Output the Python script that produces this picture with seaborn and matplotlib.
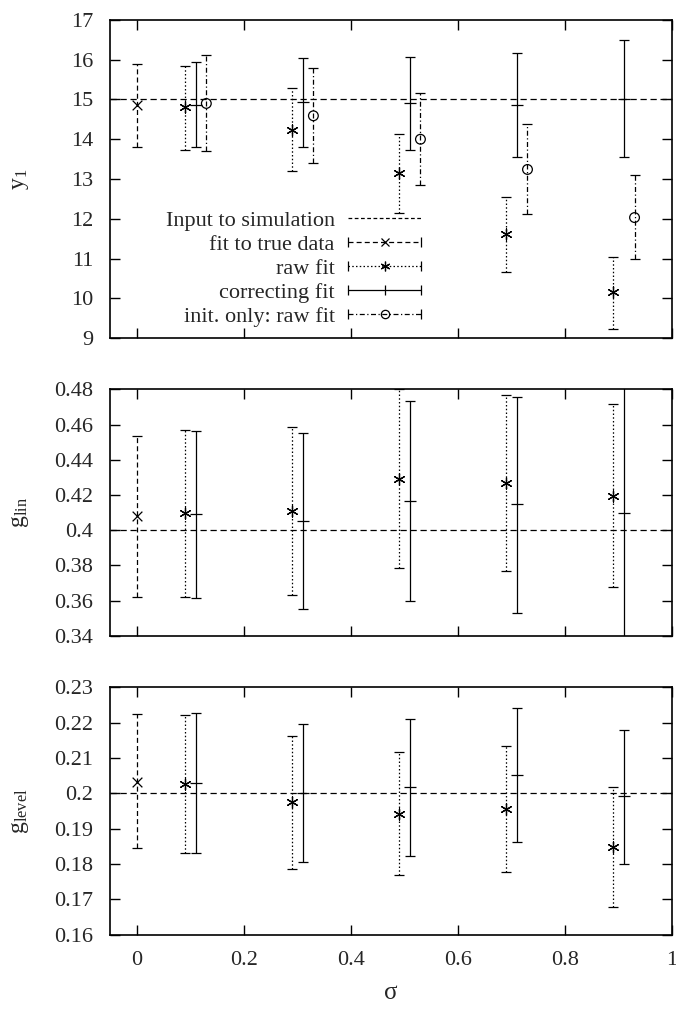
import numpy as np
import matplotlib
matplotlib.use("Agg")
import matplotlib.pyplot as plt
import seaborn as sns
from matplotlib.lines import Line2D
from matplotlib.legend_handler import HandlerLine2D, HandlerTuple

# ---------------- data ----------------
sigma_true = [0.0]
sigma_raw = [0.09, 0.29, 0.49, 0.69, 0.89]
sigma_corr = [0.11, 0.31, 0.51, 0.71, 0.91]
sigma_init = [0.13, 0.33, 0.53, 0.73, 0.93]

# panel 1 : y1
y1_input = 15.0
y1_true = [14.85]; y1_true_lo = [13.80]; y1_true_hi = [15.90]
y1_raw = [14.80, 14.23, 13.14, 11.62, 10.15]
y1_raw_lo = [13.73, 13.20, 12.15, 10.67, 9.22]
y1_raw_hi = [15.83, 15.28, 14.12, 12.55, 11.05]
y1_corr = [14.87, 14.93, 14.90, 14.86, 15.01]
y1_corr_lo = [13.81, 13.81, 13.73, 13.56, 13.56]
y1_corr_hi = [15.94, 16.04, 16.08, 16.18, 16.50]
y1_init = [14.90, 14.59, 14.00, 13.24, 12.03]
y1_init_lo = [13.70, 13.39, 12.85, 12.13, 10.98]
y1_init_hi = [16.12, 15.78, 15.16, 14.38, 13.10]

# panel 2 : g_lin
glin_input = 0.4
glin_true = [0.408]; glin_true_lo = [0.362]; glin_true_hi = [0.4537]
glin_raw = [0.4096, 0.411, 0.4289, 0.427, 0.4194]
glin_raw_lo = [0.3623, 0.3631, 0.3786, 0.3767, 0.3676]
glin_raw_hi = [0.4569, 0.4588, 0.4800, 0.4768, 0.4715]
glin_corr = [0.4092, 0.4053, 0.4168, 0.4147, 0.410]
glin_corr_lo = [0.3614, 0.3555, 0.360, 0.3529, 0.30]
glin_corr_hi = [0.4565, 0.455, 0.4734, 0.4758, 0.52]

# panel 3 : g_level
glev_input = 0.2
glev_true = [0.2033]; glev_true_lo = [0.1844]; glev_true_hi = [0.2224]
glev_raw = [0.2026, 0.1975, 0.1943, 0.1956, 0.1847]
glev_raw_lo = [0.1830, 0.1787, 0.1768, 0.1777, 0.1679]
glev_raw_hi = [0.2222, 0.2163, 0.2118, 0.2135, 0.2017]
glev_corr = [0.2028, 0.2000, 0.2017, 0.2052, 0.1992]
glev_corr_lo = [0.1832, 0.1807, 0.1823, 0.1861, 0.1800]
glev_corr_hi = [0.2226, 0.2196, 0.2210, 0.2242, 0.2179]

x_ticks = [0, 0.2, 0.4, 0.6, 0.8, 1]
x_ticklabels = ["0", "0.2", "0.4", "0.6", "0.8", "1"]
y1_ticks = [9, 10, 11, 12, 13, 14, 15, 16, 17]
glin_ticks = [0.34, 0.36, 0.38, 0.40, 0.42, 0.44, 0.46, 0.48]
glin_ticklabels = ["0.34", "0.36", "0.38", "0.4", "0.42", "0.44", "0.46", "0.48"]
glev_ticks = [0.16, 0.17, 0.18, 0.19, 0.20, 0.21, 0.22, 0.23]
glev_ticklabels = ["0.16", "0.17", "0.18", "0.19", "0.2", "0.21", "0.22", "0.23"]

labels = ["Input to simulation", "fit to true data", "raw fit",
          "correcting fit", "init. only: raw fit"]

# ---------------- style ----------------
sns.set_theme(style="ticks")
plt.rcParams["font.family"] = ["Liberation Serif", "DejaVu Serif"]
plt.rcParams["mathtext.fontset"] = "custom"
plt.rcParams["mathtext.rm"] = "Liberation Serif"
plt.rcParams["mathtext.it"] = "Liberation Serif"

FS = 16
asterisk = (6, 2, 0)
LW = 0.9
dash_true = (0, (4, 2.5))
dot_raw = (0, (1.2, 1.8))
dashdot_init = (0, (4, 2, 1, 2))

styles = {
    "true": dict(ls=dash_true, marker="x", ms=7),
    "raw": dict(ls=dot_raw, marker=asterisk, ms=8),
    "corr": dict(ls="-", marker="_", ms=9),
    "init": dict(ls=dashdot_init, marker="o", ms=7),
}

fig = plt.figure(figsize=(6.76, 10.09), dpi=100)
left, width = 0.1627, 0.8314
ax1 = fig.add_axes([left, 0.665, width, 0.3152])
ax2 = fig.add_axes([left, 0.3697, width, 0.2445])
ax3 = fig.add_axes([left, 0.0736, width, 0.2452])


def draw(ax, x, y, lo, hi, key):
    y = np.asarray(y); lo = np.asarray(lo); hi = np.asarray(hi)
    st = styles[key]
    cont = ax.errorbar(x, y, yerr=[y - lo, hi - y], fmt="none", ecolor="black",
                       elinewidth=LW, capsize=3.5, capthick=LW, zorder=3)
    for lc in cont.lines[2]:
        lc.set_linestyle(st["ls"])
    sns.scatterplot(x=x, y=y, ax=ax, marker=st["marker"], s=st["ms"] ** 2,
                    color="black", facecolors="none" if key == "init" else "black",
                    edgecolor="black", linewidth=LW, zorder=4, legend=False)


panels = [
    (ax1, y1_input, (y1_true, y1_true_lo, y1_true_hi), (y1_raw, y1_raw_lo, y1_raw_hi),
     (y1_corr, y1_corr_lo, y1_corr_hi), (y1_init, y1_init_lo, y1_init_hi)),
    (ax2, glin_input, (glin_true, glin_true_lo, glin_true_hi), (glin_raw, glin_raw_lo, glin_raw_hi),
     (glin_corr, glin_corr_lo, glin_corr_hi), None),
    (ax3, glev_input, (glev_true, glev_true_lo, glev_true_hi), (glev_raw, glev_raw_lo, glev_raw_hi),
     (glev_corr, glev_corr_lo, glev_corr_hi), None),
]

for ax, inp, tr, rw, co, ini in panels:
    ax.axhline(inp, color="black", lw=LW, ls=(0, (5, 3)), zorder=2)
    draw(ax, sigma_true, *tr, "true")
    draw(ax, sigma_raw, *rw, "raw")
    draw(ax, sigma_corr, *co, "corr")
    if ini is not None:
        draw(ax, sigma_init, *ini, "init")
    ax.set_xlim(-0.05, 1.0)
    ax.set_xticks(x_ticks)
    ax.tick_params(direction="in", top=True, right=True, length=7.5, width=1,
                   labelsize=FS, pad=12, color="black")
    for sp in ax.spines.values():
        sp.set_linewidth(1.2)
        sp.set_color("black")
    ax.set_facecolor("white")

ax1.set_ylim(9, 17)
ax1.set_yticks(y1_ticks)
ax1.set_xticklabels([])
ax1.set_ylabel(r"y$_1$", fontsize=FS + 1)

ax2.set_ylim(0.34, 0.48)
ax2.set_yticks(glin_ticks)
ax2.set_yticklabels(glin_ticklabels)
ax2.set_xticklabels([])
ax2.set_ylabel(r"g$_{\rm lin}$", fontsize=FS + 1)

ax3.set_ylim(0.16, 0.23)
ax3.set_yticks(glev_ticks)
ax3.set_yticklabels(glev_ticklabels)
ax3.set_xticklabels(x_ticklabels)
ax3.set_ylabel(r"g$_{\rm level}$", fontsize=FS + 1)
ax3.set_xlabel("σ", fontsize=FS + 2, labelpad=8)

for ax in (ax1, ax2, ax3):
    ax.yaxis.set_label_coords(-0.14, 0.5)

# legend handles: line with end caps + centred marker (gnuplot style)
leg_styles = [((0, (3, 2)), None, 0, "full"),
              (dash_true, "x", 6, "full"),
              (dot_raw, asterisk, 7, "full"),
              ("-", "|", 7, "full"),
              (dashdot_init, "o", 6, "none")]
handles = []
hmap = {}
for i, (ls, mk, ms, fill) in enumerate(leg_styles):
    if i == 0:
        h = Line2D([], [], color="black", lw=LW, ls=ls)
        handles.append(h)
        continue
    cap = Line2D([], [], color="black", lw=LW, ls=ls, marker="|", ms=7, mew=LW)
    mark = Line2D([], [], color="black", lw=0, ls="none", marker=mk, ms=ms,
                  mew=LW, fillstyle=fill)
    hmap[cap] = HandlerLine2D(numpoints=2, marker_pad=0)
    hmap[mark] = HandlerLine2D(numpoints=1)
    handles.append((cap, mark))
hmap[tuple] = HandlerTuple(ndivide=1)

leg = ax1.legend(handles, labels, loc="upper right", bbox_to_anchor=(0.57, 0.43),
                 frameon=False, markerfirst=False, fontsize=FS, handlelength=3.3,
                 handletextpad=0.6, labelspacing=0.16, borderaxespad=0,
                 handler_map=hmap)
leg._legend_box.align = "right"

fig.savefig("out.png", dpi=100, facecolor="white")
